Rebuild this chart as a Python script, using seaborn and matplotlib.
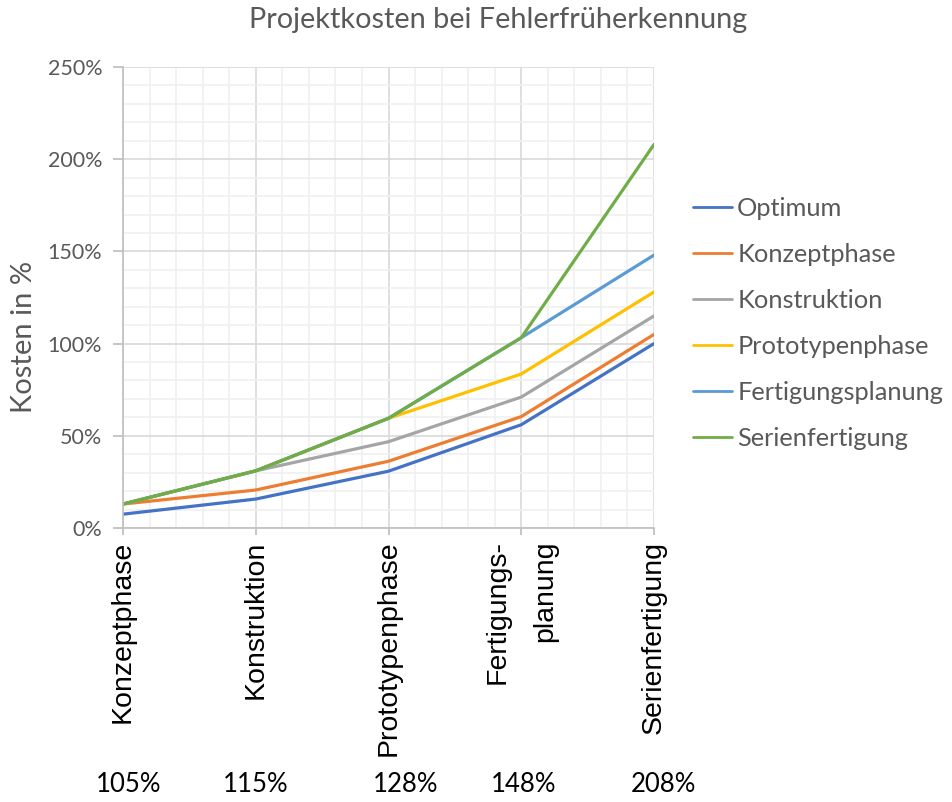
import numpy as np
import pandas as pd
import matplotlib
matplotlib.use("Agg")
import matplotlib.pyplot as plt
import matplotlib.transforms as mtransforms
from matplotlib.ticker import MultipleLocator, FuncFormatter
import seaborn as sns

# ---- data ----
phases = ["Konzeptphase", "Konstruktion", "Prototypenphase", "Fertigungs-\nplanung", "Serienfertigung"]
series_names = ["Optimum", "Konzeptphase", "Konstruktion", "Prototypenphase",
                "Fertigungsplanung", "Serienfertigung"]
optimum = [7.5, 15.7, 30.8, 56.0, 100.0]
konzeptphase = [13.0, 20.6, 36.2, 60.4, 105.0]
konstruktion = [13.0, 31.0, 46.8, 71.0, 115.0]
prototypenphase = [13.0, 31.0, 59.5, 83.5, 128.0]
fertigungsplanung = [13.0, 31.0, 59.5, 103.2, 148.0]
serienfertigung = [13.0, 31.0, 59.5, 103.2, 208.0]
bottom_labels = ["105%", "115%", "128%", "148%", "208%"]

values = [optimum, konzeptphase, konstruktion, prototypenphase, fertigungsplanung, serienfertigung]
rows = []
for name, vals in zip(series_names, values):
    for i, v in enumerate(vals):
        rows.append({"phase": i, "series": name, "value": v})
df = pd.DataFrame(rows)

colors = ["#4472C4", "#ED7D31", "#A5A5A5", "#FFC000", "#5B9BD5", "#70AD47"]

sns.set_theme(style="white")
plt.rcParams["font.family"] = ["Lato", "DejaVu Sans"]

fig = plt.figure(figsize=(9.52, 8.02), dpi=100)
ax = fig.add_axes([123/952, 1-528/802, (654-123)/952, (528-67)/802])

sns.lineplot(data=df, x="phase", y="value", hue="series", hue_order=series_names,
             palette=colors, linewidth=2.3, ax=ax, sort=False)

ax.set_xlim(0, 4)
ax.set_ylim(0, 250)
ax.yaxis.set_major_locator(MultipleLocator(50))
ax.yaxis.set_minor_locator(MultipleLocator(10))
ax.xaxis.set_major_locator(MultipleLocator(1))
ax.xaxis.set_minor_locator(MultipleLocator(0.2))
ax.yaxis.set_major_formatter(FuncFormatter(lambda v, p: f"{v:.0f}%"))

ax.grid(which="major", color="#D9D9D9", linewidth=1.2)
ax.grid(which="minor", color="#F0F0F0", linewidth=1.2)
ax.set_axisbelow(True)

for s in ["top", "right"]:
    ax.spines[s].set_visible(False)
for s in ["left", "bottom"]:
    ax.spines[s].set_color("#BFBFBF")
    ax.spines[s].set_linewidth(1.2)

ax.tick_params(axis="y", which="major", left=True, length=7, color="#BFBFBF",
               labelsize=15.5, labelcolor="#595959", pad=8)
ax.tick_params(axis="x", which="major", bottom=True, length=5, color="#BFBFBF", pad=4)
ax.tick_params(which="minor", length=0)

ax.set_xticks(range(len(phases)))
ax.set_xticklabels(phases, rotation=90, fontsize=20.5, family=["Liberation Sans"],
                   color="black", va="top", ha="center", multialignment="right",
                   linespacing=2.05)

ax.set_xlabel("")
ax.set_ylabel("")
fig.text(24/952, 1-337/802, "Kosten in %", rotation=90, ha="center", va="center",
         fontsize=21, color="#595959")

fig.text(498/952, 1-20/802, "Projektkosten bei Fehlerfrüherkennung", ha="center", va="center",
         fontsize=20.8, color="#595959")

label_offsets = [0.04, 0.0, 0.13, 0.02, 0.07]
blend = mtransforms.blended_transform_factory(ax.transData, fig.transFigure)
for i, (lab, off) in enumerate(zip(bottom_labels, label_offsets)):
    ax.text(i + off, 1-785/802, lab, transform=blend,
            ha="center", va="center", fontsize=18.5, color="black")

handles, labels = ax.get_legend_handles_labels()
ax.legend(handles, labels, loc="upper left", bbox_to_anchor=(680/952, 1-184/802),
          bbox_transform=fig.transFigure, frameon=False, fontsize=18.3, labelcolor="#595959",
          handlelength=1.55, handletextpad=0.2, labelspacing=0.91, borderpad=0)
for line in ax.get_legend().get_lines():
    line.set_linewidth(2.0)

fig.savefig("out.png", dpi=100)
